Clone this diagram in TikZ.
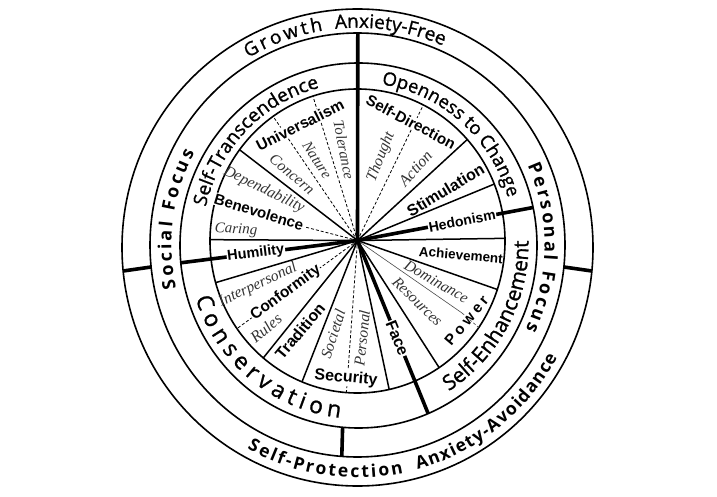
\documentclass[tikz,border=0pt]{standalone}
\usepackage{fontspec}
\setmainfont{Liberation Serif}
\newfontfamily\osans{Open Sans}
\newfontfamily\osemi[FakeBold=1]{Open Sans}
\newfontfamily\lsans{Liberation Sans}
\newfontfamily\lserif{Liberation Serif}
\usetikzlibrary{decorations.text,calc}
\newcommand\valf[1]{\lsans\bfseries\fontsize{#1}{#1}\selectfont}
\newcommand\subf[1]{\lserif\itshape\fontsize{#1}{#1}\selectfont}
\newcommand\fGrowth{\osemi\fontsize{19}{19}\selectfont}
\newcommand\fProt{\osans\bfseries\fontsize{17.5}{17.5}\selectfont}
\newcommand\fFocus{\osans\bfseries\fontsize{18}{18}\selectfont}
\newcommand\fST{\osemi\fontsize{19}{19}\selectfont}
\newcommand\fOC{\osemi\fontsize{18.5}{18.5}\selectfont}
\newcommand\fSE{\osemi\fontsize{21}{21}\selectfont}
\newcommand\fCons{\osemi\fontsize{23}{23}\selectfont}
\begin{document}
\begin{tikzpicture}[x=1pt,y=1pt,
  ring/.style={line width=1.6pt},
  divider/.style={line width=1.5pt},
  heavy/.style={line width=3.6pt},
  subline/.style={line width=0.8pt, dash pattern=on 3pt off 2pt},
  greyline/.style={line width=0.6pt, black!70},
  val/.style={inner sep=0.6pt},
  valw/.style={inner sep=0.8pt, fill=white},
  sub/.style={inner sep=0pt, text=black!80},
  arctext/.style={decorate, decoration={text along path, text={#1}, text align=fit to path}},
  arctextc/.style={decorate, decoration={text along path, text={#1}, text align=center}}
]
\fill[white] (0,0) rectangle (717,496);
\useasboundingbox (0,0) rectangle (717,496);

% centres
\coordinate (hub) at (357.5,255.5);
\coordinate (c1) at (357.5,248.5);
\coordinate (c2) at (357.5,251);
\coordinate (c3) at (358.5,250.5);
\coordinate (c4) at (357.5,255);
\coordinate (cO) at (357.5,249.75);
\coordinate (cF) at (358,250.75);
\coordinate (cV) at (358,252.75);

% rings
\draw[ring] (c1) ellipse [x radius=235.5, y radius=238.5];
\draw[ring] (c2) ellipse [x radius=207.5, y radius=212];
\draw[ring] (c3) ellipse [x radius=178.5, y radius=182.5];
\draw[ring] (c4) ellipse [x radius=147.5, y radius=152];

% outer band dividers
\coordinate (oL1) at (123.2,225);
\coordinate (oL2) at (151.1,229);
\coordinate (oR1) at (591.9,225);
\coordinate (oR2) at (563.9,229);
\coordinate (oB3) at (342.6,68.7);
\coordinate (oB2) at (341.8,39.6);
\coordinate (topR2) at (357.8,463);
\draw[heavy] (oL1) -- (oL2);
\draw[heavy] (oR1) -- (oR2);
\draw[heavy] (oB3) -- (oB2);
\draw[heavy] (hub) -- (topR2);

% ordinary radial dividers
\foreach \a in {143.1,179.5,195.9,230.3,247.9,282.4,303.6,341.4,1,22,41.9}
  \draw[divider] (hub) -- ([shift={(c4)}]\a:147.5 and 152);

% dashed sub-dividers
\foreach \a in {107.6,124.9,265.7,63.5}
  \draw[subline] (hub) -- ([shift={(c4)}]\a:147.5 and 152);
\coordinate (benEnd) at (305,269);
\draw[subline] (hub) -- (benEnd);
\coordinate (domEnd) at (462,183);
\draw[greyline] (hub) -- (domEnd);
\draw[subline, black!70, line width=0.6pt] (domEnd) -- ([shift={(c4)}]325.3:147.5 and 152);

% conformity dashed line with label
\draw[subline] (hub) -- ([shift={(c4)}]215.2:147.5 and 152)
  node[valw, sloped, pos=0.595, font=\valf{15.5}] (conformity) {Conformity};

% heavy lines through labels
\coordinate (humEnd) at (180.8,233.2);
\coordinate (hedEnd) at (533,288.5);
\coordinate (faceEnd) at (428.2,82.3);
\draw[heavy] (hub) -- (humEnd)
  node[valw, sloped, pos=0.575, font=\valf{14.5}] (humility) {Humility};
\draw[heavy] (hub) -- (hedEnd)
  node[valw, sloped, pos=0.596, font=\valf{14}] (hedonism) {Hedonism};
\draw[heavy] (hub) -- (faceEnd)
  node[valw, sloped, pos=0.564, font=\valf{16}] (face) {Face};

% value labels
\node[valw, rotate=27, font=\valf{15.5}] (universalism) at (300,371) {Universalism};
\node[valw, rotate=-28, font=\valf{15.2}] (selfdir) at (411,374) {Self-Direction};
\node[val, rotate=31, font=\valf{16}] (stimulation) at (445.5,306) {Stimulation};
\node[val, rotate=-5, font=\valf{13.5}] (achievement) at (461,241) {Achievement};
\node[val, rotate=50, font=\valf{15}] (power) at (466.5,175.5) {P\kern3.5pt o\kern3.5pt w\kern3.5pt e\kern3.5pt r};
\node[valw, rotate=-5, font=\valf{16}] (security) at (346,118) {Security};
\node[val, rotate=50, font=\valf{16}] (tradition) at (300,165) {Tradition};
\node[valw, rotate=-17, font=\valf{15}] (benevolence) at (259,284) {Benevolence};

% sub-value labels
\node[sub, rotate=-79, font=\subf{15}] (tolerance) at (344,346) {Tolerance};
\node[sub, rotate=-57, font=\subf{15}] (nature) at (317,336) {Nature};
\node[sub, rotate=-40, font=\subf{15.5}] (concern) at (292,322) {Concern};
\node[sub, rotate=-26, font=\subf{15.5}] (dependability) at (264,306) {Dependability};
\node[sub, rotate=-3, font=\subf{15}] (caring) at (236,266) {Caring};
\node[sub, rotate=25, font=\subf{15.5}] (interpersonal) at (258,211) {Interpersonal};
\node[sub, rotate=40, font=\subf{16}] (rules) at (266,168) {Rules};
\node[sub, rotate=72, font=\subf{15.5}] (societal) at (333,162) {Societal};
\node[sub, rotate=84, font=\subf{15.5}] (personal) at (362,158) {Personal};
\node[sub, rotate=-44, font=\subf{15.5}] (resources) at (417.5,194.5) {Resources};
\node[sub, rotate=-30, font=\subf{15.5}] (dominance) at (436.5,214.5) {Dominance};
\node[sub, rotate=68, font=\subf{15.5}] (thought) at (381,339) {Thought};
\node[sub, rotate=49, font=\subf{16}] (action) at (415.5,327.5) {Action};

% outer band texts
\path[arctext={|\fGrowth|Growth}] ([shift={(cO)}]120.5:215.2 and 218.5)
  arc[start angle=120.5, end angle=99.2, x radius=215.2, y radius=218.5];
\path[arctextc={|\fGrowth|Anxiety-Free}] ([shift={(cO)}]100:215.2 and 218.5)
  arc[start angle=100, end angle=62.5, x radius=215.2, y radius=218.5];
\path[arctext={|\fProt|Self-Protection}] ([shift={(cO)}]241:227.8 and 231.5)
  arc[start angle=241, end angle=281.6, x radius=227.8, y radius=231.5];
\path[arctext={|\fProt|Anxiety-Avoidance}] ([shift={(cO)}]285.3:227.8 and 231.5)
  arc[start angle=285.3, end angle=331.4, x radius=227.8, y radius=231.5];

% focus band texts
\path[arctext={|\fFocus|Social Focus}] ([shift={(cF)}]193.1:186.6 and 190.85)
  arc[start angle=193.1, end angle=151.1, x radius=186.6, y radius=190.85];
\path[arctext={|\fFocus|Personal Focus}] ([shift={(cF)}]24.6:186.6 and 190.85)
  arc[start angle=24.6, end angle=-26.1, x radius=186.6, y radius=190.85];

% higher-order value texts
\path[arctextc={|\fST|Self-Transcendence}] ([shift={(cV)}]175:156.2 and 160.45)
  arc[start angle=175, end angle=96, x radius=156.2, y radius=160.45];
\path[arctextc={|\fOC|Openness to Change}] ([shift={(cV)}]89:156.4 and 160.65)
  arc[start angle=89, end angle=9, x radius=156.4, y radius=160.65];
\path[arctext={|\fCons|Conservation}] ([shift={(cV)}]198.3:171.2 and 175.45)
  arc[start angle=198.3, end angle=264, x radius=171.2, y radius=175.45];
\path[arctextc={|\fSE|Self-Enhancement}] ([shift={(cV)}]291:170.5 and 174.75)
  arc[start angle=291, end angle=371.8, x radius=170.5, y radius=174.75];
\end{tikzpicture}
\end{document}
